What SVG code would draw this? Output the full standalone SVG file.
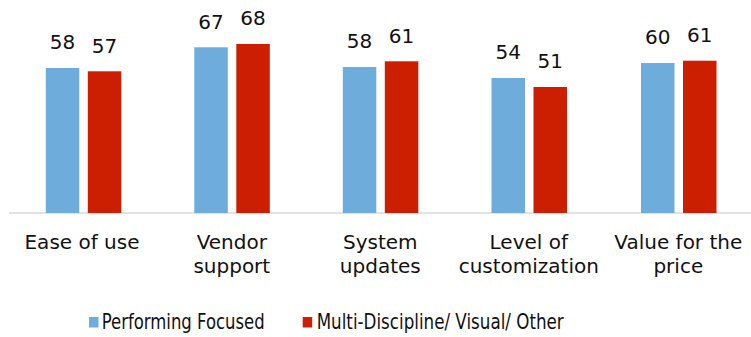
<svg xmlns="http://www.w3.org/2000/svg" width="751" height="337" viewBox="0 0 751 337">
<style>
text{font-family:"DejaVu Sans","Liberation Sans",sans-serif;font-size:20px;fill:#111;}
.v{text-anchor:middle;}
.c{text-anchor:middle;}
.b{fill:#6EACDC;}
.r{fill:#CC1E00;}
.lg{font-size:22px;}
</style>
<rect width="751" height="337" fill="#fff"/>
<line x1="9" y1="213" x2="751" y2="213" stroke="#d9d9d9" stroke-width="1.6"/>
<g id="cat-ease">
<rect class="b" x="45.8" y="68" width="33.5" height="145"/>
<rect class="r" x="87.8" y="71.3" width="33.5" height="141.7"/>
<text class="v" x="62.5" y="49.3">58</text>
<text class="v" x="104.5" y="52.8">57</text>
<text class="c" x="82" y="249">Ease of use</text>
</g>
<g id="cat-vendor">
<rect class="b" x="194.3" y="47.3" width="33.5" height="165.7"/>
<rect class="r" x="236.3" y="44" width="33.5" height="169"/>
<text class="v" x="211" y="28.6">67</text>
<text class="v" x="253" y="25.3">68</text>
<text class="c" x="231.8" y="249">Vendor</text>
<text class="c" x="231.8" y="273">support</text>
</g>
<g id="cat-system">
<rect class="b" x="342.8" y="67" width="33.5" height="146"/>
<rect class="r" x="384.8" y="61.3" width="33.5" height="151.7"/>
<text class="v" x="359.5" y="48.4">58</text>
<text class="v" x="401.5" y="42.7">61</text>
<text class="c" x="380.3" y="249">System</text>
<text class="c" x="380.3" y="273">updates</text>
</g>
<g id="cat-level">
<rect class="b" x="491.5" y="78" width="33.5" height="135"/>
<rect class="r" x="533.5" y="87" width="33.5" height="126"/>
<text class="v" x="508.2" y="59.4">54</text>
<text class="v" x="550.2" y="68.4">51</text>
<text class="c" x="528.8" y="249">Level of</text>
<text class="c" x="528.8" y="273">customization</text>
</g>
<g id="cat-value">
<rect class="b" x="641" y="63" width="33.5" height="150"/>
<rect class="r" x="683" y="60.7" width="33.5" height="152.3"/>
<text class="v" x="657.7" y="44.4">60</text>
<text class="v" x="699.7" y="42.1">61</text>
<text class="c" x="678.3" y="249">Value for the</text>
<text class="c" x="678.3" y="273">price</text>
</g>
<g id="legend">
<rect class="b" x="89" y="317" width="9.5" height="10.5"/>
<text class="lg" x="101.7" y="329.3" textLength="163" lengthAdjust="spacingAndGlyphs">Performing Focused</text>
<rect class="r" x="302.7" y="317" width="9.5" height="10.5"/>
<text class="lg" x="316.7" y="329.3" textLength="247" lengthAdjust="spacingAndGlyphs">Multi-Discipline/ Visual/ Other</text>
</g>
</svg>
